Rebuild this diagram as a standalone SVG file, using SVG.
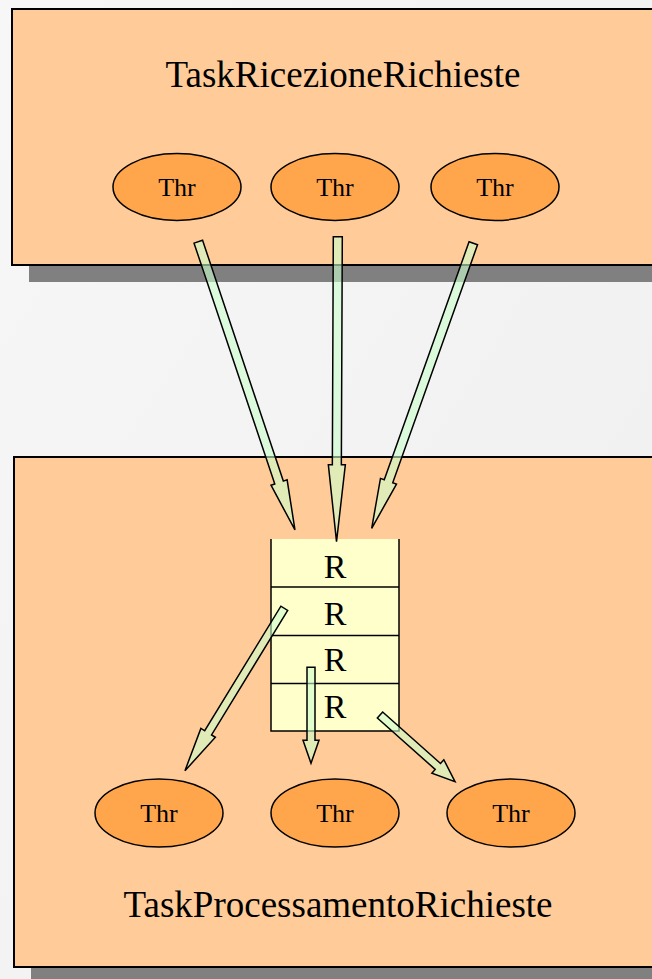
<svg xmlns="http://www.w3.org/2000/svg" width="652" height="979" viewBox="0 0 652 979">
  <defs>
    <linearGradient id="bg" x1="0" y1="0" x2="1" y2="1">
      <stop offset="0" stop-color="#f7f7f7"/>
      <stop offset="1" stop-color="#efefef"/>
    </linearGradient>
  </defs>
  <style>
    .task { fill: #FFCC99; stroke: #000; stroke-width: 2; }
    .shadow { fill: #808080; }
    .thr { fill: #FFA64D; stroke: #000; stroke-width: 1.5; }
    .txt { font-family: "Liberation Serif", "Times New Roman", serif; fill: #000; text-anchor: middle; }
    .title { font-size: 37px; }
    .small { font-size: 26px; }
    .rtxt { font-size: 34px; }
    .arrow { fill: #CCFFCC; fill-opacity: 0.6; stroke: #000; stroke-width: 1.5; stroke-linejoin: miter; }
    .queue { fill: #FFFFCC; }
    .qline { fill: none; stroke: #000; stroke-width: 1.5; }
  </style>
  <rect x="0" y="0" width="652" height="979" fill="url(#bg)"/>

  <g id="taskRicezione">
    <rect class="shadow" x="29" y="26" width="640" height="256"/>
    <rect class="task" x="12" y="9" width="660" height="256"/>
    <text class="txt title" x="343" y="87">TaskRicezioneRichieste</text>
  </g>
  <g id="thrTop1">
    <ellipse class="thr" cx="177" cy="187" rx="64" ry="33.5"/>
    <text class="txt small" x="177" y="196">Thr</text>
  </g>
  <g id="thrTop2">
    <ellipse class="thr" cx="335" cy="187" rx="64" ry="33.5"/>
    <text class="txt small" x="335" y="196">Thr</text>
  </g>
  <g id="thrTop3">
    <ellipse class="thr" cx="495" cy="187" rx="64" ry="33.5"/>
    <text class="txt small" x="495" y="196">Thr</text>
  </g>

  <g id="taskProcessamento">
    <rect class="shadow" x="31" y="474" width="640" height="520"/>
    <rect class="task" x="14" y="457" width="660" height="510"/>
    <text class="txt title" x="338" y="917">TaskProcessamentoRichieste</text>
  </g>

  <g id="queue">
    <rect class="queue" x="271" y="539" width="128" height="192"/>
    <path class="qline" d="M271,539 V731 H399 V539 M271,587 H399 M271,635.5 H399 M271,683.5 H399"/>
    <text class="txt rtxt" x="335" y="577.5">R</text>
    <text class="txt rtxt" x="335" y="625">R</text>
    <text class="txt rtxt" x="335" y="671">R</text>
    <text class="txt rtxt" x="335" y="718">R</text>
  </g>

  <g id="thrBot1">
    <ellipse class="thr" cx="159" cy="813" rx="64" ry="34"/>
    <text class="txt small" x="159" y="822">Thr</text>
  </g>
  <g id="thrBot2">
    <ellipse class="thr" cx="335" cy="813" rx="64" ry="34"/>
    <text class="txt small" x="335" y="822">Thr</text>
  </g>
  <g id="thrBot3">
    <ellipse class="thr" cx="511" cy="813" rx="64" ry="34"/>
    <text class="txt small" x="511" y="822">Thr</text>
  </g>

  <g id="connectors">
    <polygon class="arrow" transform="translate(198.3,241.7) rotate(71.46)" points="0,-4.5 254,-4.5 254,-8.5 304,0 254,8.5 254,4.5 0,4.5"/>
    <polygon class="arrow" transform="translate(337.8,236.7) rotate(90.24)" points="0,-4.5 228,-4.5 228,-8.5 305,0 228,8.5 228,4.5 0,4.5"/>
    <polygon class="arrow" transform="translate(473.3,243.3) rotate(109.62)" points="0,-4.5 252.6,-4.5 252.6,-8.5 302.6,0 252.6,8.5 252.6,4.5 0,4.5"/>
    <polygon class="arrow" transform="translate(284.3,608.3) rotate(121.45)" points="0,-4 146,-4 146,-8.5 190.4,0 146,8.5 146,4 0,4"/>
    <polygon class="arrow" transform="translate(311,667.3) rotate(90)" points="0,-4 73,-4 73,-8 96,0 73,8 73,4 0,4"/>
    <polygon class="arrow" transform="translate(380,715) rotate(41.64)" points="0,-4 77.4,-4 77.4,-9 100.4,0 77.4,9 77.4,4 0,4"/>
  </g>
</svg>
